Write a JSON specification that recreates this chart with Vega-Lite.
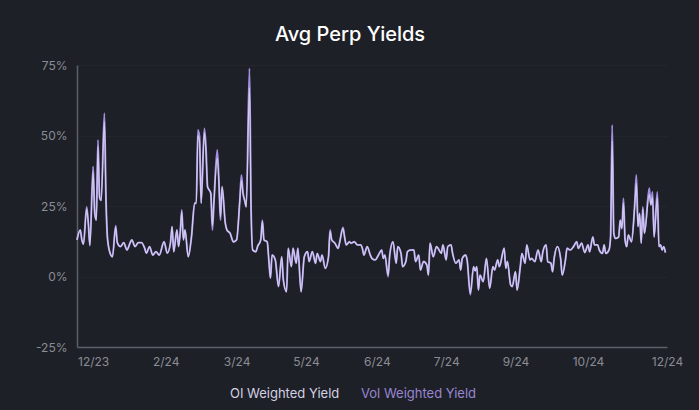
{
  "$schema": "https://vega.github.io/schema/vega-lite/v6.json",
  "width": 590,
  "height": 282,
  "autosize": {"type": "none"},
  "padding": {"left": 77, "top": 65, "right": 32, "bottom": 63},
  "background": "#1e2027",
  "title": {"text": "Avg Perp Yields", "color": "#ffffff", "fontSize": 20, "fontWeight": 500, "font": "Inter", "anchor": "middle", "dx": -22, "offset": 14},
  "config": {"view": {"stroke": null}},
  "data": {"values": [
    {"date": "2023-12-12", "oi": 13, "vol": 13},
    {"date": "2023-12-14", "oi": 16.5, "vol": 16.5},
    {"date": "2023-12-15", "oi": 13, "vol": 13},
    {"date": "2023-12-16", "oi": 11.5, "vol": 11.5},
    {"date": "2023-12-18", "oi": 24, "vol": 24.7},
    {"date": "2023-12-19", "oi": 19, "vol": 19},
    {"date": "2023-12-20", "oi": 11, "vol": 11},
    {"date": "2023-12-22", "oi": 37, "vol": 39},
    {"date": "2023-12-23", "oi": 22.5, "vol": 22.5},
    {"date": "2023-12-24", "oi": 20, "vol": 20},
    {"date": "2023-12-25", "oi": 46, "vol": 48.4},
    {"date": "2023-12-26", "oi": 28, "vol": 28},
    {"date": "2023-12-27", "oi": 27, "vol": 27},
    {"date": "2023-12-29", "oi": 55, "vol": 57.9},
    {"date": "2023-12-30", "oi": 27, "vol": 27},
    {"date": "2023-12-31", "oi": 13, "vol": 13},
    {"date": "2024-01-02", "oi": 7.6, "vol": 7.6},
    {"date": "2024-01-03", "oi": 7, "vol": 7},
    {"date": "2024-01-05", "oi": 17.5, "vol": 18},
    {"date": "2024-01-06", "oi": 12, "vol": 12},
    {"date": "2024-01-08", "oi": 10.6, "vol": 10.6},
    {"date": "2024-01-10", "oi": 12, "vol": 12},
    {"date": "2024-01-12", "oi": 9.4, "vol": 9.4},
    {"date": "2024-01-14", "oi": 12, "vol": 12},
    {"date": "2024-01-15", "oi": 13, "vol": 13},
    {"date": "2024-01-17", "oi": 10.6, "vol": 10.6},
    {"date": "2024-01-19", "oi": 12, "vol": 12},
    {"date": "2024-01-21", "oi": 12, "vol": 12},
    {"date": "2024-01-23", "oi": 10, "vol": 10},
    {"date": "2024-01-24", "oi": 8.3, "vol": 8.3},
    {"date": "2024-01-26", "oi": 10.6, "vol": 10.6},
    {"date": "2024-01-28", "oi": 7.6, "vol": 7.6},
    {"date": "2024-01-30", "oi": 8.8, "vol": 8.8},
    {"date": "2024-02-01", "oi": 7.6, "vol": 7.6},
    {"date": "2024-02-04", "oi": 12.3, "vol": 12.3},
    {"date": "2024-02-06", "oi": 8.3, "vol": 8.3},
    {"date": "2024-02-08", "oi": 12, "vol": 12},
    {"date": "2024-02-09", "oi": 17.7, "vol": 17.7},
    {"date": "2024-02-10", "oi": 8.8, "vol": 8.8},
    {"date": "2024-02-12", "oi": 16.5, "vol": 16.5},
    {"date": "2024-02-13", "oi": 10.6, "vol": 10.6},
    {"date": "2024-02-14", "oi": 15.3, "vol": 15.3},
    {"date": "2024-02-15", "oi": 23, "vol": 23.6},
    {"date": "2024-02-16", "oi": 13, "vol": 13},
    {"date": "2024-02-17", "oi": 16.5, "vol": 16.5},
    {"date": "2024-02-19", "oi": 7, "vol": 7},
    {"date": "2024-02-21", "oi": 14, "vol": 14},
    {"date": "2024-02-23", "oi": 26, "vol": 26},
    {"date": "2024-02-24", "oi": 26, "vol": 26},
    {"date": "2024-02-25", "oi": 50, "vol": 52},
    {"date": "2024-02-26", "oi": 48, "vol": 49.6},
    {"date": "2024-02-27", "oi": 26, "vol": 26},
    {"date": "2024-02-29", "oi": 51, "vol": 52.5},
    {"date": "2024-03-01", "oi": 44, "vol": 46},
    {"date": "2024-03-02", "oi": 31.8, "vol": 31.8},
    {"date": "2024-03-03", "oi": 30.7, "vol": 30.7},
    {"date": "2024-03-04", "oi": 29.5, "vol": 29.5},
    {"date": "2024-03-05", "oi": 18, "vol": 16.5},
    {"date": "2024-03-06", "oi": 27, "vol": 27},
    {"date": "2024-03-08", "oi": 42, "vol": 44.9},
    {"date": "2024-03-09", "oi": 34, "vol": 34},
    {"date": "2024-03-10", "oi": 21, "vol": 20},
    {"date": "2024-03-11", "oi": 31.8, "vol": 31.8},
    {"date": "2024-03-13", "oi": 18.9, "vol": 18.9},
    {"date": "2024-03-14", "oi": 16.5, "vol": 16.5},
    {"date": "2024-03-16", "oi": 15.3, "vol": 15.3},
    {"date": "2024-03-18", "oi": 12.3, "vol": 12.3},
    {"date": "2024-03-20", "oi": 13, "vol": 13},
    {"date": "2024-03-22", "oi": 27, "vol": 27},
    {"date": "2024-03-23", "oi": 34, "vol": 36},
    {"date": "2024-03-24", "oi": 29.5, "vol": 29.5},
    {"date": "2024-03-25", "oi": 27, "vol": 27},
    {"date": "2024-03-26", "oi": 24.7, "vol": 24.7},
    {"date": "2024-03-28", "oi": 67, "vol": 73.8},
    {"date": "2024-03-29", "oi": 23.6, "vol": 23.6},
    {"date": "2024-03-30", "oi": 9.4, "vol": 9.4},
    {"date": "2024-04-01", "oi": 8.8, "vol": 8.8},
    {"date": "2024-04-02", "oi": 10.6, "vol": 10.6},
    {"date": "2024-04-04", "oi": 13, "vol": 13},
    {"date": "2024-04-05", "oi": 19.5, "vol": 20},
    {"date": "2024-04-06", "oi": 13, "vol": 13},
    {"date": "2024-04-08", "oi": 12.3, "vol": 12.3},
    {"date": "2024-04-09", "oi": 5.8, "vol": 5.8},
    {"date": "2024-04-10", "oi": -0.6, "vol": -0.6},
    {"date": "2024-04-11", "oi": 7.6, "vol": 7.6},
    {"date": "2024-04-13", "oi": 5.9, "vol": 5.9},
    {"date": "2024-04-15", "oi": -3.6, "vol": -3.6},
    {"date": "2024-04-17", "oi": 7, "vol": 7},
    {"date": "2024-04-18", "oi": -1.2, "vol": -1.2},
    {"date": "2024-04-20", "oi": -5.4, "vol": -5.4},
    {"date": "2024-04-21", "oi": 10, "vol": 10},
    {"date": "2024-04-23", "oi": 3.5, "vol": 3.5},
    {"date": "2024-04-24", "oi": 10, "vol": 10},
    {"date": "2024-04-26", "oi": 4.7, "vol": 4.7},
    {"date": "2024-04-27", "oi": 10, "vol": 10},
    {"date": "2024-04-29", "oi": -5.4, "vol": -5.4},
    {"date": "2024-05-01", "oi": 7, "vol": 7},
    {"date": "2024-05-03", "oi": 8.8, "vol": 8.8},
    {"date": "2024-05-04", "oi": 5.3, "vol": 5.3},
    {"date": "2024-05-06", "oi": 8.8, "vol": 8.8},
    {"date": "2024-05-08", "oi": 4.7, "vol": 4.7},
    {"date": "2024-05-09", "oi": 8.2, "vol": 8.2},
    {"date": "2024-05-11", "oi": 5.3, "vol": 5.3},
    {"date": "2024-05-12", "oi": 7.6, "vol": 7.6},
    {"date": "2024-05-14", "oi": 2.9, "vol": 2.9},
    {"date": "2024-05-16", "oi": 7, "vol": 7},
    {"date": "2024-05-17", "oi": 16, "vol": 16.5},
    {"date": "2024-05-18", "oi": 13, "vol": 13},
    {"date": "2024-05-20", "oi": 11.8, "vol": 11.8},
    {"date": "2024-05-22", "oi": 10, "vol": 10},
    {"date": "2024-05-23", "oi": 12.3, "vol": 12.3},
    {"date": "2024-05-25", "oi": 17, "vol": 17.4},
    {"date": "2024-05-26", "oi": 14, "vol": 14},
    {"date": "2024-05-27", "oi": 11.2, "vol": 11.2},
    {"date": "2024-05-29", "oi": 12.3, "vol": 12.3},
    {"date": "2024-05-30", "oi": 11.8, "vol": 11.8},
    {"date": "2024-06-01", "oi": 12.3, "vol": 12.3},
    {"date": "2024-06-03", "oi": 11.2, "vol": 11.2},
    {"date": "2024-06-05", "oi": 11.2, "vol": 11.2},
    {"date": "2024-06-06", "oi": 10, "vol": 10},
    {"date": "2024-06-07", "oi": 7.6, "vol": 7.6},
    {"date": "2024-06-09", "oi": 10.6, "vol": 10.6},
    {"date": "2024-06-11", "oi": 7.5, "vol": 7.5},
    {"date": "2024-06-12", "oi": 6.4, "vol": 6.4},
    {"date": "2024-06-14", "oi": 5.9, "vol": 5.9},
    {"date": "2024-06-16", "oi": 7.6, "vol": 7.6},
    {"date": "2024-06-18", "oi": 9.4, "vol": 9.4},
    {"date": "2024-06-19", "oi": 6.4, "vol": 6.4},
    {"date": "2024-06-20", "oi": 7.6, "vol": 7.6},
    {"date": "2024-06-22", "oi": 0.5, "vol": 0},
    {"date": "2024-06-23", "oi": 7.6, "vol": 7.6},
    {"date": "2024-06-25", "oi": 12.3, "vol": 12.3},
    {"date": "2024-06-27", "oi": 4.7, "vol": 4.7},
    {"date": "2024-06-28", "oi": 10.6, "vol": 10.6},
    {"date": "2024-06-30", "oi": 8.2, "vol": 8.2},
    {"date": "2024-07-01", "oi": 3.5, "vol": 3.5},
    {"date": "2024-07-03", "oi": 5.3, "vol": 5.3},
    {"date": "2024-07-04", "oi": 8.8, "vol": 8.8},
    {"date": "2024-07-06", "oi": 9.4, "vol": 9.4},
    {"date": "2024-07-08", "oi": 9.4, "vol": 9.4},
    {"date": "2024-07-09", "oi": 5.3, "vol": 5.3},
    {"date": "2024-07-11", "oi": 7.6, "vol": 7.6},
    {"date": "2024-07-12", "oi": 2.3, "vol": 2.3},
    {"date": "2024-07-14", "oi": 5.3, "vol": 5.3},
    {"date": "2024-07-16", "oi": 4.1, "vol": 4.1},
    {"date": "2024-07-17", "oi": 0.5, "vol": 0.5},
    {"date": "2024-07-18", "oi": 11.8, "vol": 11.8},
    {"date": "2024-07-20", "oi": 7, "vol": 7},
    {"date": "2024-07-22", "oi": 10.6, "vol": 10.6},
    {"date": "2024-07-23", "oi": 10, "vol": 10},
    {"date": "2024-07-25", "oi": 8.2, "vol": 8.2},
    {"date": "2024-07-26", "oi": 11.2, "vol": 11.2},
    {"date": "2024-07-28", "oi": 5.9, "vol": 5.9},
    {"date": "2024-07-29", "oi": 10.6, "vol": 10.6},
    {"date": "2024-07-31", "oi": 11.2, "vol": 11.2},
    {"date": "2024-08-01", "oi": 8.2, "vol": 8.2},
    {"date": "2024-08-03", "oi": 4.7, "vol": 4.7},
    {"date": "2024-08-05", "oi": 5.9, "vol": 5.9},
    {"date": "2024-08-06", "oi": 2.3, "vol": 2.3},
    {"date": "2024-08-07", "oi": 6.4, "vol": 6.4},
    {"date": "2024-08-09", "oi": 7.6, "vol": 7.6},
    {"date": "2024-08-10", "oi": 5.9, "vol": 5.9},
    {"date": "2024-08-12", "oi": -6, "vol": -6.5},
    {"date": "2024-08-14", "oi": 3.5, "vol": 3.5},
    {"date": "2024-08-15", "oi": 2, "vol": 2},
    {"date": "2024-08-16", "oi": 3.5, "vol": 3.5},
    {"date": "2024-08-17", "oi": -4.8, "vol": -4.8},
    {"date": "2024-08-18", "oi": 0.5, "vol": 0.5},
    {"date": "2024-08-20", "oi": -1.8, "vol": -1.8},
    {"date": "2024-08-22", "oi": 6.4, "vol": 6.4},
    {"date": "2024-08-24", "oi": -4.2, "vol": -4.2},
    {"date": "2024-08-26", "oi": 3.5, "vol": 3.5},
    {"date": "2024-08-27", "oi": 2.3, "vol": 2.3},
    {"date": "2024-08-29", "oi": 5.9, "vol": 5.9},
    {"date": "2024-08-30", "oi": 3.5, "vol": 3.5},
    {"date": "2024-09-02", "oi": 10, "vol": 10},
    {"date": "2024-09-03", "oi": 2.9, "vol": 2.9},
    {"date": "2024-09-04", "oi": 5.3, "vol": 5.3},
    {"date": "2024-09-06", "oi": -3, "vol": -3},
    {"date": "2024-09-07", "oi": -3.6, "vol": -3.6},
    {"date": "2024-09-09", "oi": 1.7, "vol": 1.7},
    {"date": "2024-09-10", "oi": -4.8, "vol": -4.8},
    {"date": "2024-09-12", "oi": 3.5, "vol": 3.5},
    {"date": "2024-09-13", "oi": 8.2, "vol": 8.2},
    {"date": "2024-09-15", "oi": 4.7, "vol": 4.7},
    {"date": "2024-09-16", "oi": 11.2, "vol": 11.2},
    {"date": "2024-09-18", "oi": 5.9, "vol": 5.9},
    {"date": "2024-09-19", "oi": 6.4, "vol": 6.4},
    {"date": "2024-09-21", "oi": 5.3, "vol": 5.3},
    {"date": "2024-09-23", "oi": 9.4, "vol": 9.4},
    {"date": "2024-09-25", "oi": 5.3, "vol": 5.3},
    {"date": "2024-09-26", "oi": 8.8, "vol": 8.8},
    {"date": "2024-09-28", "oi": 11.2, "vol": 11.2},
    {"date": "2024-09-29", "oi": 5.3, "vol": 5.3},
    {"date": "2024-10-01", "oi": 4.7, "vol": 4.7},
    {"date": "2024-10-02", "oi": 1.7, "vol": 1.7},
    {"date": "2024-10-03", "oi": 6.4, "vol": 6.4},
    {"date": "2024-10-05", "oi": 10.6, "vol": 10.6},
    {"date": "2024-10-07", "oi": 6.4, "vol": 6.4},
    {"date": "2024-10-08", "oi": 0.5, "vol": 0.5},
    {"date": "2024-10-10", "oi": 5.9, "vol": 5.9},
    {"date": "2024-10-11", "oi": 10, "vol": 10},
    {"date": "2024-10-13", "oi": 9.4, "vol": 9.4},
    {"date": "2024-10-15", "oi": 10.6, "vol": 10.6},
    {"date": "2024-10-17", "oi": 12.3, "vol": 12.3},
    {"date": "2024-10-18", "oi": 10, "vol": 10},
    {"date": "2024-10-20", "oi": 11.8, "vol": 11.8},
    {"date": "2024-10-22", "oi": 8.5, "vol": 8.5},
    {"date": "2024-10-24", "oi": 11.2, "vol": 11.2},
    {"date": "2024-10-25", "oi": 8.8, "vol": 8.8},
    {"date": "2024-10-27", "oi": 14, "vol": 14},
    {"date": "2024-10-28", "oi": 11.2, "vol": 11.2},
    {"date": "2024-10-30", "oi": 11.2, "vol": 11.2},
    {"date": "2024-10-31", "oi": 9.4, "vol": 9.4},
    {"date": "2024-11-02", "oi": 8.2, "vol": 8.2},
    {"date": "2024-11-03", "oi": 11.2, "vol": 11.2},
    {"date": "2024-11-04", "oi": 8.2, "vol": 8.2},
    {"date": "2024-11-06", "oi": 9.4, "vol": 9.4},
    {"date": "2024-11-07", "oi": 14, "vol": 14},
    {"date": "2024-11-08", "oi": 48, "vol": 53.7},
    {"date": "2024-11-09", "oi": 15.3, "vol": 15.3},
    {"date": "2024-11-10", "oi": 13.5, "vol": 13.5},
    {"date": "2024-11-12", "oi": 14, "vol": 14},
    {"date": "2024-11-13", "oi": 20, "vol": 20},
    {"date": "2024-11-14", "oi": 17, "vol": 17},
    {"date": "2024-11-15", "oi": 26, "vol": 27.7},
    {"date": "2024-11-16", "oi": 13, "vol": 13},
    {"date": "2024-11-17", "oi": 10.6, "vol": 10.6},
    {"date": "2024-11-18", "oi": 14.7, "vol": 14.7},
    {"date": "2024-11-20", "oi": 12.3, "vol": 12.3},
    {"date": "2024-11-22", "oi": 25, "vol": 26},
    {"date": "2024-11-23", "oi": 33, "vol": 36},
    {"date": "2024-11-24", "oi": 17.7, "vol": 17.7},
    {"date": "2024-11-25", "oi": 22.4, "vol": 22.4},
    {"date": "2024-11-26", "oi": 11.8, "vol": 11.8},
    {"date": "2024-11-27", "oi": 24, "vol": 24.7},
    {"date": "2024-11-28", "oi": 15.3, "vol": 15.3},
    {"date": "2024-12-01", "oi": 29, "vol": 31.3},
    {"date": "2024-12-02", "oi": 25.4, "vol": 25.4},
    {"date": "2024-12-03", "oi": 28, "vol": 30},
    {"date": "2024-12-04", "oi": 14, "vol": 14},
    {"date": "2024-12-06", "oi": 28, "vol": 30},
    {"date": "2024-12-07", "oi": 10.6, "vol": 10.6},
    {"date": "2024-12-08", "oi": 11.2, "vol": 11.2},
    {"date": "2024-12-09", "oi": 9.4, "vol": 9.4},
    {"date": "2024-12-10", "oi": 10.6, "vol": 10.6},
    {"date": "2024-12-11", "oi": 8.5, "vol": 8.5}
  ]},
  "transform": [{"fold": ["oi", "vol"], "as": ["series", "value"]}],
  "encoding": {
    "x": {
      "field": "date", "type": "temporal",
      "scale": {"type": "utc", "domain": [{"year": 2023, "month": 12, "date": 12, "utc": true}, {"year": 2024, "month": 12, "date": 12, "utc": true}]},
      "axis": {
        "title": null,
        "values": [
          {"year": 2023, "month": 12, "date": 22, "utc": true},
          {"year": 2024, "month": 2, "date": 5, "utc": true},
          {"year": 2024, "month": 3, "date": 20, "utc": true},
          {"year": 2024, "month": 5, "date": 2, "utc": true},
          {"year": 2024, "month": 6, "date": 15, "utc": true},
          {"year": 2024, "month": 7, "date": 28, "utc": true},
          {"year": 2024, "month": 9, "date": 9, "utc": true},
          {"year": 2024, "month": 10, "date": 24, "utc": true},
          {"year": 2024, "month": 12, "date": 12, "utc": true}
        ],
        "format": "%-m/%y",
        "labelFlush": false,
        "labelOverlap": false,
        "grid": false,
        "ticks": false,
        "domainColor": "#5c5f68",
        "domainWidth": 1.5,
        "labelColor": "#8a8d96",
        "labelFont": "Inter",
        "labelFontSize": 12,
        "labelPadding": 9
      }
    },
    "y": {
      "field": "value", "type": "quantitative",
      "scale": {"domain": [-25, 75], "nice": false},
      "axis": {
        "title": null,
        "values": [-25, 0, 25, 50, 75],
        "labelExpr": "datum.value + '%'",
        "grid": true,
        "gridColor": "#23252c",
        "gridWidth": 1,
        "ticks": false,
        "domainColor": "#5c5f68",
        "domainWidth": 1.5,
        "labelColor": "#8a8d96",
        "labelFont": "Inter",
        "labelFontSize": 12,
        "labelPadding": 10
      }
    },
    "color": {
      "field": "series", "type": "nominal",
      "scale": {"domain": ["oi", "vol"], "range": ["#ddd8f3", "#a490e2"]},
      "legend": {
        "orient": "none",
        "legendX": 140,
        "legendY": 322,
        "direction": "horizontal",
        "title": null,
        "symbolSize": 0,
        "symbolOpacity": 0,
        "symbolStrokeWidth": 0,
        "labelOffset": 0,
        "columnPadding": 8,
        "labelFont": "Inter",
        "labelFontSize": 13,
        "labelExpr": "datum.value == 'oi' ? 'OI Weighted Yield' : 'Vol Weighted Yield'",
        "encode": {"labels": {"update": {"fill": {"signal": "datum.value == 'oi' ? '#d3d0e3' : '#9886d4'"}}}}
      }
    }
  },
  "layer": [
    {"transform": [{"filter": "datum.series == 'vol'"}], "mark": {"type": "line", "interpolate": "monotone", "strokeWidth": 1.9}},
    {"transform": [{"filter": "datum.series == 'oi'"}], "mark": {"type": "line", "interpolate": "monotone", "strokeWidth": 1.2, "opacity": 0.8}}
  ]
}
